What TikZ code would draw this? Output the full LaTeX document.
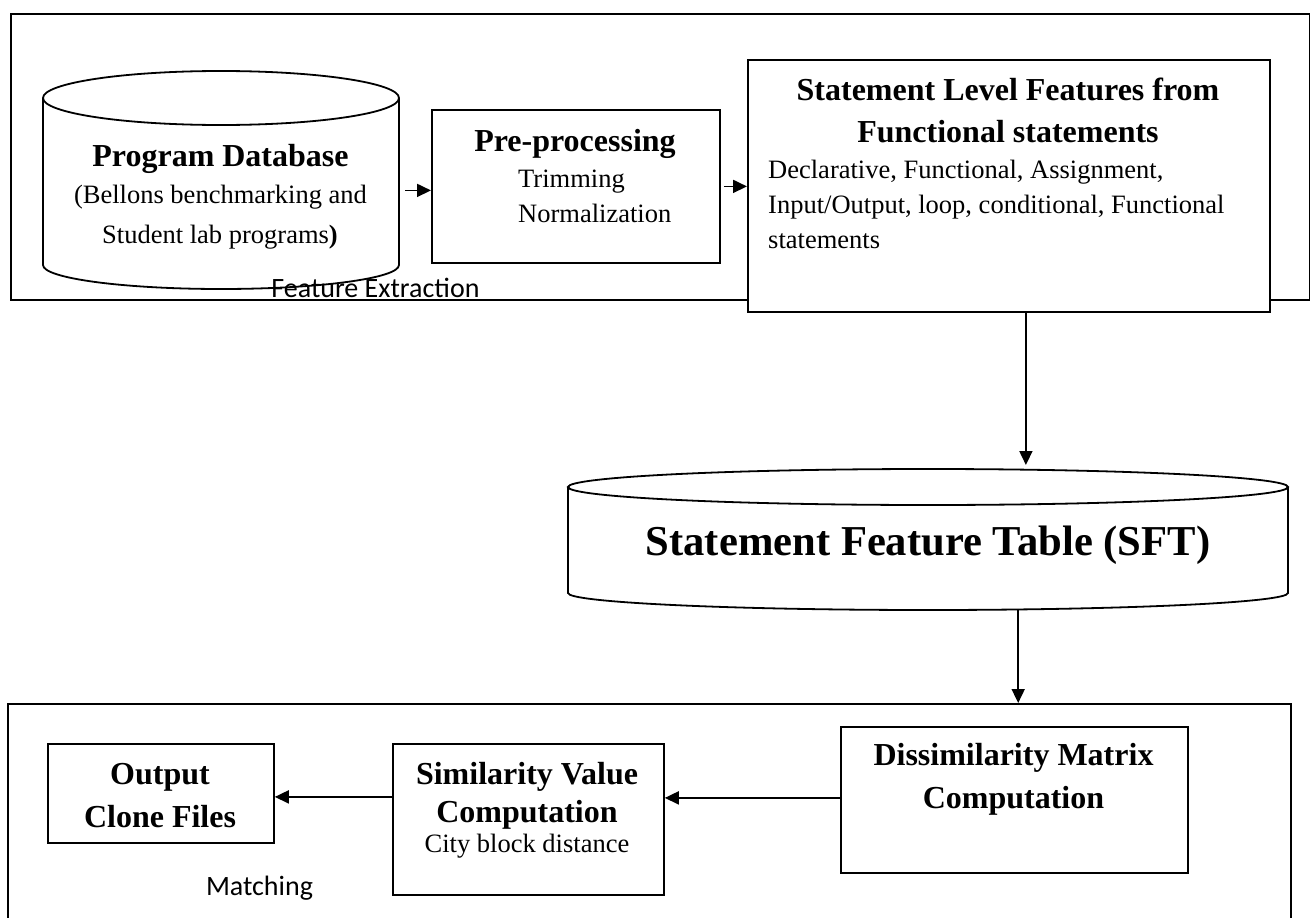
\documentclass[tikz,border=0pt]{standalone}
\usepackage{fontspec}
\setmainfont{Liberation Serif}
\newfontfamily\calibrifont{Carlito}
\usetikzlibrary{arrows.meta}
\newcommand\headfont{\bfseries\fontsize{32}{32}\selectfont}
\newcommand\bigheadfont{\bfseries\fontsize{42.6}{42.6}\selectfont}
\newcommand\bodyfont{\fontsize{26.5}{26.5}\selectfont}
\newcommand\lblfont{\calibrifont\fontsize{28}{28}\selectfont}

\begin{document}
\begin{tikzpicture}[x=1pt,y=-1pt,
  frame/.style={draw, line width=1.8pt, inner sep=0pt, anchor=north west},
  box/.style={frame, fill=white},
  area/.style={inner sep=0pt, anchor=north west},
  txt/.style={inner sep=0pt, anchor=base},
  txtl/.style={inner sep=0pt, anchor=base west},
  arr/.style={line width=1.8pt, -{Triangle[length=14pt,width=13pt]}},
  cyl/.style={line width=1.8pt}]

\useasboundingbox (0,0) rectangle (1310,918);
\clip (0,0) rectangle (1310,918);

% ---------- feature extraction stage ----------
\node[frame, minimum width=1299pt, minimum height=286pt] (fe) at (10,13) {};
\node[txt, font=\lblfont] (felbl) at (375.5,297) {Feature Extraction};

% program database cylinder
\draw[cyl] (43,98) -- (43,265) arc[start angle=180, end angle=360, x radius=178pt, y radius=24pt] -- (399,98);
\draw[cyl] (221,98) ellipse [x radius=178pt, y radius=27pt];
\node[area, minimum width=356pt, minimum height=218pt] (pdb) at (43,71) {};
\node[txt, font=\headfont] (pdb1) at (220.5,166) {Program Database};
\node[txt, font=\bodyfont] (pdb2) at (220.5,203) {(Bellons benchmarking and};
\node[txt, font=\bodyfont] (pdb3) at (220,243) {Student lab programs\textbf{)}};

% pre-processing
\node[box, minimum width=288pt, minimum height=153pt] (pre) at (431,109) {};
\node[txt, font=\headfont] (pre1) at (575,151) {Pre-processing};
\node[txtl, font=\bodyfont] (pre2) at (518,187) {Trimming};
\node[txtl, font=\bodyfont] (pre3) at (518,222) {Normalization};

% statement level features
\node[box, minimum width=522pt, minimum height=252pt] (stmt) at (747,59) {};
\node[txt, font=\headfont] (st1) at (1008,100) {Statement Level Features from};
\node[txt, font=\headfont] (st2) at (1008,142) {Functional statements};
\node[txtl, font=\bodyfont] (st3) at (768,178) {Declarative, Functional, Assignment,};
\node[txtl, font=\bodyfont] (st4) at (768,213) {Input/Output, loop, conditional, Functional};
\node[txtl, font=\bodyfont] (st5) at (768,248) {statements};

% ---------- statement feature table ----------
\draw[cyl] (568,487) -- (568,593) arc[start angle=180, end angle=360, x radius=360pt, y radius=17pt] -- (1288,487);
\draw[cyl] (928,487) ellipse [x radius=360pt, y radius=18pt];
\node[area, minimum width=720pt, minimum height=141pt] (sft) at (568,469) {};
\node[txt, font=\bigheadfont] (sft1) at (928,555) {Statement Feature Table (SFT)};

% ---------- matching stage ----------
\node[frame, minimum width=1283pt, minimum height=240pt] (mbox) at (7,703) {};
\node[txt, font=\lblfont] (mlbl) at (259.5,895) {Matching};

\node[box, minimum width=226pt, minimum height=99pt] (out) at (47,743) {};
\node[txt, font=\headfont] (out1) at (160,784) {Output};
\node[txt, font=\headfont] (out2) at (160,827) {Clone Files};

\node[box, minimum width=271pt, minimum height=151pt] (sim) at (392,743) {};
\node[txt, font=\headfont] (sim1) at (527,784) {Similarity Value};
\node[txt, font=\headfont] (sim2) at (527,822) {Computation};
\node[txt, font=\bodyfont] (sim3) at (527,852) {City block distance};

\node[box, minimum width=347pt, minimum height=146pt] (dis) at (840,726) {};
\node[txt, font=\headfont] (dis1) at (1013.5,765) {Dissimilarity Matrix};
\node[txt, font=\headfont] (dis2) at (1013.5,808) {Computation};

% ---------- connectors ----------
\coordinate (inpre) at ([yshift=-4pt]pre.west);
\draw[arr] ([xshift=6pt]pdb.east |- inpre) -- (inpre);
\draw[arr] ([xshift=3pt]pre.east) -- (stmt.west |- pre.east);
\draw[arr, shorten >=4pt] ([xshift=17pt]stmt.south) -- ([xshift=17pt]stmt.south |- sft.north);
\draw[arr] ([xshift=90pt]sft.south) -- ([xshift=90pt]sft.south |- mbox.north);
\coordinate (outdis) at ([yshift=2pt]dis.west);
\draw[arr] (outdis) -- (outdis -| sim.east);
\coordinate (inout) at ([yshift=-3.5pt]out.east);
\draw[arr] (sim.west |- inout) -- (inout);
\end{tikzpicture}
\end{document}
